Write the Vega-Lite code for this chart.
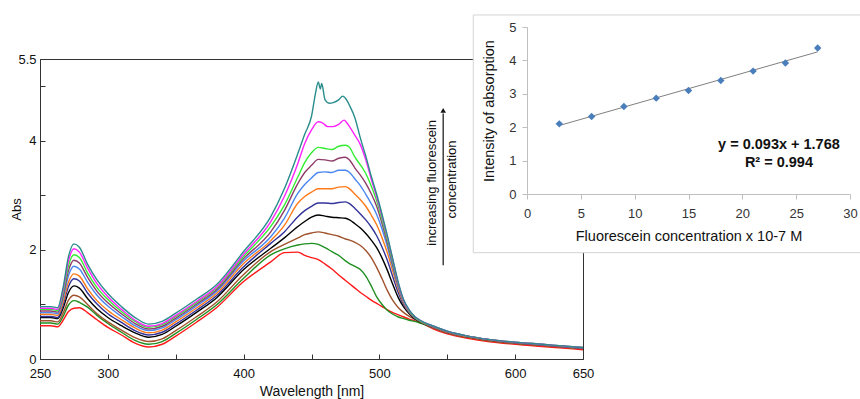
{
  "$schema": "https://vega.github.io/schema/vega-lite/v6.json",
  "width": 543,
  "height": 300,
  "autosize": {"type": "none"},
  "padding": {"left": 40, "top": 59, "right": 277, "bottom": 40},
  "background": "white",
  "config": {
    "view": {"stroke": "#333333", "strokeWidth": 1},
    "font": "Liberation Sans",
    "text": {"font": "Liberation Sans"},
    "axis": {"labelFont": "Liberation Sans", "titleFont": "Liberation Sans", "grid": false}
  },
  "datasets": {
    "spectra": [
{"s":"r","w":250,"a":0.61},{"s":"r","w":258,"a":0.61},{"s":"r","w":263,"a":0.59},{"s":"r","w":267,"a":0.71},{"s":"r","w":271,"a":0.87},{"s":"r","w":275,"a":0.93},{"s":"r","w":279,"a":0.94},{"s":"r","w":285,"a":0.85},{"s":"r","w":292,"a":0.72},{"s":"r","w":300,"a":0.58},{"s":"r","w":310,"a":0.44},{"s":"r","w":320,"a":0.29},{"s":"r","w":330,"a":0.22},{"s":"r","w":340,"a":0.27},{"s":"r","w":350,"a":0.42},{"s":"r","w":365,"a":0.67},{"s":"r","w":380,"a":0.94},{"s":"r","w":400,"a":1.42},{"s":"r","w":420,"a":1.78},{"s":"r","w":430,"a":1.95},{"s":"r","w":440,"a":1.96},{"s":"r","w":445,"a":1.90},{"s":"r","w":450,"a":1.86},{"s":"r","w":455,"a":1.82},{"s":"r","w":460,"a":1.74},{"s":"r","w":465,"a":1.65},{"s":"r","w":470,"a":1.54},{"s":"r","w":475,"a":1.44},{"s":"r","w":478,"a":1.38},{"s":"r","w":482,"a":1.30},{"s":"r","w":486,"a":1.22},{"s":"r","w":490,"a":1.15},{"s":"r","w":494,"a":1.08},{"s":"r","w":498,"a":1.02},{"s":"r","w":502,"a":0.96},{"s":"r","w":506,"a":0.90},{"s":"r","w":510,"a":0.85},{"s":"r","w":514,"a":0.81},{"s":"r","w":518,"a":0.77},{"s":"r","w":522,"a":0.73},{"s":"r","w":526,"a":0.70},{"s":"r","w":530,"a":0.67},{"s":"r","w":540,"a":0.55},{"s":"r","w":550,"a":0.46},{"s":"r","w":565,"a":0.38},{"s":"r","w":580,"a":0.32},{"s":"r","w":600,"a":0.27},{"s":"r","w":620,"a":0.23},{"s":"r","w":635,"a":0.20},{"s":"r","w":650,"a":0.17},
{"s":"g","w":250,"a":0.66},{"s":"g","w":258,"a":0.66},{"s":"g","w":263,"a":0.64},{"s":"g","w":267,"a":0.78},{"s":"g","w":271,"a":0.99},{"s":"g","w":275,"a":1.07},{"s":"g","w":279,"a":1.04},{"s":"g","w":285,"a":0.95},{"s":"g","w":292,"a":0.80},{"s":"g","w":300,"a":0.65},{"s":"g","w":310,"a":0.49},{"s":"g","w":320,"a":0.34},{"s":"g","w":330,"a":0.27},{"s":"g","w":340,"a":0.32},{"s":"g","w":350,"a":0.47},{"s":"g","w":365,"a":0.72},{"s":"g","w":380,"a":0.99},{"s":"g","w":400,"a":1.48},{"s":"g","w":420,"a":1.91},{"s":"g","w":430,"a":2.02},{"s":"g","w":440,"a":2.09},{"s":"g","w":445,"a":2.11},{"s":"g","w":450,"a":2.12},{"s":"g","w":455,"a":2.10},{"s":"g","w":460,"a":2.04},{"s":"g","w":465,"a":1.97},{"s":"g","w":470,"a":1.90},{"s":"g","w":475,"a":1.80},{"s":"g","w":478,"a":1.75},{"s":"g","w":482,"a":1.70},{"s":"g","w":486,"a":1.64},{"s":"g","w":490,"a":1.52},{"s":"g","w":494,"a":1.34},{"s":"g","w":498,"a":1.14},{"s":"g","w":502,"a":1.00},{"s":"g","w":506,"a":0.89},{"s":"g","w":510,"a":0.82},{"s":"g","w":514,"a":0.77},{"s":"g","w":518,"a":0.74},{"s":"g","w":522,"a":0.71},{"s":"g","w":526,"a":0.69},{"s":"g","w":530,"a":0.66},{"s":"g","w":540,"a":0.57},{"s":"g","w":550,"a":0.48},{"s":"g","w":565,"a":0.40},{"s":"g","w":580,"a":0.34},{"s":"g","w":600,"a":0.29},{"s":"g","w":620,"a":0.25},{"s":"g","w":635,"a":0.22},{"s":"g","w":650,"a":0.19},
{"s":"br","w":250,"a":0.70},{"s":"br","w":258,"a":0.70},{"s":"br","w":263,"a":0.68},{"s":"br","w":267,"a":0.84},{"s":"br","w":271,"a":1.08},{"s":"br","w":275,"a":1.17},{"s":"br","w":279,"a":1.14},{"s":"br","w":285,"a":1.00},{"s":"br","w":292,"a":0.83},{"s":"br","w":300,"a":0.68},{"s":"br","w":310,"a":0.53},{"s":"br","w":320,"a":0.39},{"s":"br","w":330,"a":0.32},{"s":"br","w":340,"a":0.37},{"s":"br","w":350,"a":0.52},{"s":"br","w":365,"a":0.77},{"s":"br","w":380,"a":1.04},{"s":"br","w":400,"a":1.55},{"s":"br","w":420,"a":1.97},{"s":"br","w":430,"a":2.10},{"s":"br","w":440,"a":2.22},{"s":"br","w":445,"a":2.28},{"s":"br","w":450,"a":2.31},{"s":"br","w":455,"a":2.33},{"s":"br","w":460,"a":2.31},{"s":"br","w":465,"a":2.28},{"s":"br","w":470,"a":2.25},{"s":"br","w":475,"a":2.20},{"s":"br","w":478,"a":2.18},{"s":"br","w":482,"a":2.14},{"s":"br","w":486,"a":2.08},{"s":"br","w":490,"a":1.99},{"s":"br","w":494,"a":1.86},{"s":"br","w":498,"a":1.68},{"s":"br","w":502,"a":1.47},{"s":"br","w":506,"a":1.25},{"s":"br","w":510,"a":1.07},{"s":"br","w":514,"a":0.94},{"s":"br","w":518,"a":0.85},{"s":"br","w":522,"a":0.78},{"s":"br","w":526,"a":0.73},{"s":"br","w":530,"a":0.68},{"s":"br","w":540,"a":0.57},{"s":"br","w":550,"a":0.48},{"s":"br","w":565,"a":0.40},{"s":"br","w":580,"a":0.34},{"s":"br","w":600,"a":0.29},{"s":"br","w":620,"a":0.25},{"s":"br","w":635,"a":0.22},{"s":"br","w":650,"a":0.19},
{"s":"bk","w":250,"a":0.76},{"s":"bk","w":258,"a":0.76},{"s":"bk","w":263,"a":0.74},{"s":"bk","w":267,"a":0.93},{"s":"bk","w":271,"a":1.22},{"s":"bk","w":275,"a":1.34},{"s":"bk","w":279,"a":1.30},{"s":"bk","w":285,"a":1.11},{"s":"bk","w":292,"a":0.92},{"s":"bk","w":300,"a":0.76},{"s":"bk","w":310,"a":0.61},{"s":"bk","w":320,"a":0.48},{"s":"bk","w":330,"a":0.40},{"s":"bk","w":340,"a":0.45},{"s":"bk","w":350,"a":0.60},{"s":"bk","w":365,"a":0.85},{"s":"bk","w":380,"a":1.12},{"s":"bk","w":400,"a":1.64},{"s":"bk","w":420,"a":2.03},{"s":"bk","w":430,"a":2.22},{"s":"bk","w":440,"a":2.43},{"s":"bk","w":445,"a":2.52},{"s":"bk","w":450,"a":2.60},{"s":"bk","w":455,"a":2.64},{"s":"bk","w":460,"a":2.62},{"s":"bk","w":465,"a":2.60},{"s":"bk","w":470,"a":2.59},{"s":"bk","w":475,"a":2.58},{"s":"bk","w":478,"a":2.55},{"s":"bk","w":482,"a":2.48},{"s":"bk","w":486,"a":2.40},{"s":"bk","w":490,"a":2.30},{"s":"bk","w":494,"a":2.18},{"s":"bk","w":498,"a":2.04},{"s":"bk","w":502,"a":1.85},{"s":"bk","w":506,"a":1.62},{"s":"bk","w":510,"a":1.36},{"s":"bk","w":514,"a":1.12},{"s":"bk","w":518,"a":0.95},{"s":"bk","w":522,"a":0.83},{"s":"bk","w":526,"a":0.74},{"s":"bk","w":530,"a":0.68},{"s":"bk","w":540,"a":0.58},{"s":"bk","w":550,"a":0.49},{"s":"bk","w":565,"a":0.41},{"s":"bk","w":580,"a":0.35},{"s":"bk","w":600,"a":0.30},{"s":"bk","w":620,"a":0.26},{"s":"bk","w":635,"a":0.23},{"s":"bk","w":650,"a":0.20},
{"s":"nv","w":250,"a":0.78},{"s":"nv","w":258,"a":0.78},{"s":"nv","w":263,"a":0.76},{"s":"nv","w":267,"a":0.99},{"s":"nv","w":271,"a":1.33},{"s":"nv","w":275,"a":1.47},{"s":"nv","w":279,"a":1.43},{"s":"nv","w":285,"a":1.21},{"s":"nv","w":292,"a":1.01},{"s":"nv","w":300,"a":0.83},{"s":"nv","w":310,"a":0.67},{"s":"nv","w":320,"a":0.52},{"s":"nv","w":330,"a":0.44},{"s":"nv","w":340,"a":0.49},{"s":"nv","w":350,"a":0.64},{"s":"nv","w":365,"a":0.89},{"s":"nv","w":380,"a":1.16},{"s":"nv","w":400,"a":1.69},{"s":"nv","w":420,"a":2.12},{"s":"nv","w":430,"a":2.33},{"s":"nv","w":440,"a":2.61},{"s":"nv","w":445,"a":2.72},{"s":"nv","w":450,"a":2.80},{"s":"nv","w":455,"a":2.86},{"s":"nv","w":460,"a":2.86},{"s":"nv","w":465,"a":2.85},{"s":"nv","w":470,"a":2.87},{"s":"nv","w":475,"a":2.88},{"s":"nv","w":478,"a":2.85},{"s":"nv","w":482,"a":2.76},{"s":"nv","w":486,"a":2.66},{"s":"nv","w":490,"a":2.55},{"s":"nv","w":494,"a":2.42},{"s":"nv","w":498,"a":2.26},{"s":"nv","w":502,"a":2.05},{"s":"nv","w":506,"a":1.80},{"s":"nv","w":510,"a":1.50},{"s":"nv","w":514,"a":1.21},{"s":"nv","w":518,"a":0.99},{"s":"nv","w":522,"a":0.85},{"s":"nv","w":526,"a":0.75},{"s":"nv","w":530,"a":0.69},{"s":"nv","w":540,"a":0.58},{"s":"nv","w":550,"a":0.49},{"s":"nv","w":565,"a":0.41},{"s":"nv","w":580,"a":0.35},{"s":"nv","w":600,"a":0.30},{"s":"nv","w":620,"a":0.26},{"s":"nv","w":635,"a":0.23},{"s":"nv","w":650,"a":0.20},
{"s":"or","w":250,"a":0.82},{"s":"or","w":258,"a":0.82},{"s":"or","w":263,"a":0.80},{"s":"or","w":267,"a":1.04},{"s":"or","w":271,"a":1.41},{"s":"or","w":275,"a":1.56},{"s":"or","w":279,"a":1.52},{"s":"or","w":285,"a":1.29},{"s":"or","w":292,"a":1.07},{"s":"or","w":300,"a":0.89},{"s":"or","w":310,"a":0.72},{"s":"or","w":320,"a":0.57},{"s":"or","w":330,"a":0.48},{"s":"or","w":340,"a":0.53},{"s":"or","w":350,"a":0.68},{"s":"or","w":365,"a":0.93},{"s":"or","w":380,"a":1.20},{"s":"or","w":400,"a":1.75},{"s":"or","w":420,"a":2.17},{"s":"or","w":430,"a":2.45},{"s":"or","w":440,"a":2.86},{"s":"or","w":445,"a":2.98},{"s":"or","w":450,"a":3.06},{"s":"or","w":455,"a":3.12},{"s":"or","w":460,"a":3.12},{"s":"or","w":465,"a":3.12},{"s":"or","w":470,"a":3.15},{"s":"or","w":475,"a":3.16},{"s":"or","w":478,"a":3.12},{"s":"or","w":482,"a":3.02},{"s":"or","w":486,"a":2.92},{"s":"or","w":490,"a":2.80},{"s":"or","w":494,"a":2.64},{"s":"or","w":498,"a":2.46},{"s":"or","w":502,"a":2.22},{"s":"or","w":506,"a":1.94},{"s":"or","w":510,"a":1.60},{"s":"or","w":514,"a":1.27},{"s":"or","w":518,"a":1.02},{"s":"or","w":522,"a":0.86},{"s":"or","w":526,"a":0.76},{"s":"or","w":530,"a":0.69},{"s":"or","w":540,"a":0.58},{"s":"or","w":550,"a":0.49},{"s":"or","w":565,"a":0.41},{"s":"or","w":580,"a":0.35},{"s":"or","w":600,"a":0.30},{"s":"or","w":620,"a":0.26},{"s":"or","w":635,"a":0.23},{"s":"or","w":650,"a":0.20},
{"s":"bl","w":250,"a":0.85},{"s":"bl","w":258,"a":0.85},{"s":"bl","w":263,"a":0.83},{"s":"bl","w":267,"a":1.11},{"s":"bl","w":271,"a":1.53},{"s":"bl","w":275,"a":1.70},{"s":"bl","w":279,"a":1.65},{"s":"bl","w":285,"a":1.41},{"s":"bl","w":292,"a":1.17},{"s":"bl","w":300,"a":0.97},{"s":"bl","w":310,"a":0.78},{"s":"bl","w":320,"a":0.61},{"s":"bl","w":330,"a":0.52},{"s":"bl","w":340,"a":0.57},{"s":"bl","w":350,"a":0.72},{"s":"bl","w":365,"a":0.97},{"s":"bl","w":380,"a":1.24},{"s":"bl","w":400,"a":1.80},{"s":"bl","w":420,"a":2.24},{"s":"bl","w":430,"a":2.58},{"s":"bl","w":440,"a":3.04},{"s":"bl","w":445,"a":3.20},{"s":"bl","w":450,"a":3.32},{"s":"bl","w":455,"a":3.42},{"s":"bl","w":460,"a":3.43},{"s":"bl","w":465,"a":3.42},{"s":"bl","w":470,"a":3.46},{"s":"bl","w":475,"a":3.46},{"s":"bl","w":478,"a":3.42},{"s":"bl","w":482,"a":3.30},{"s":"bl","w":486,"a":3.18},{"s":"bl","w":490,"a":3.02},{"s":"bl","w":494,"a":2.85},{"s":"bl","w":498,"a":2.65},{"s":"bl","w":502,"a":2.38},{"s":"bl","w":506,"a":2.05},{"s":"bl","w":510,"a":1.67},{"s":"bl","w":514,"a":1.31},{"s":"bl","w":518,"a":1.04},{"s":"bl","w":522,"a":0.87},{"s":"bl","w":526,"a":0.76},{"s":"bl","w":530,"a":0.70},{"s":"bl","w":540,"a":0.59},{"s":"bl","w":550,"a":0.50},{"s":"bl","w":565,"a":0.42},{"s":"bl","w":580,"a":0.36},{"s":"bl","w":600,"a":0.30},{"s":"bl","w":620,"a":0.26},{"s":"bl","w":635,"a":0.23},{"s":"bl","w":650,"a":0.20},
{"s":"pl","w":250,"a":0.88},{"s":"pl","w":258,"a":0.88},{"s":"pl","w":263,"a":0.86},{"s":"pl","w":267,"a":1.16},{"s":"pl","w":271,"a":1.62},{"s":"pl","w":275,"a":1.81},{"s":"pl","w":279,"a":1.76},{"s":"pl","w":285,"a":1.50},{"s":"pl","w":292,"a":1.24},{"s":"pl","w":300,"a":1.03},{"s":"pl","w":310,"a":0.83},{"s":"pl","w":320,"a":0.65},{"s":"pl","w":330,"a":0.55},{"s":"pl","w":340,"a":0.60},{"s":"pl","w":350,"a":0.75},{"s":"pl","w":365,"a":1.00},{"s":"pl","w":380,"a":1.27},{"s":"pl","w":400,"a":1.84},{"s":"pl","w":420,"a":2.33},{"s":"pl","w":430,"a":2.72},{"s":"pl","w":440,"a":3.22},{"s":"pl","w":445,"a":3.42},{"s":"pl","w":450,"a":3.55},{"s":"pl","w":455,"a":3.66},{"s":"pl","w":460,"a":3.65},{"s":"pl","w":465,"a":3.63},{"s":"pl","w":470,"a":3.68},{"s":"pl","w":475,"a":3.70},{"s":"pl","w":478,"a":3.65},{"s":"pl","w":482,"a":3.50},{"s":"pl","w":486,"a":3.37},{"s":"pl","w":490,"a":3.22},{"s":"pl","w":494,"a":3.03},{"s":"pl","w":498,"a":2.80},{"s":"pl","w":502,"a":2.48},{"s":"pl","w":506,"a":2.12},{"s":"pl","w":510,"a":1.72},{"s":"pl","w":514,"a":1.34},{"s":"pl","w":518,"a":1.05},{"s":"pl","w":522,"a":0.88},{"s":"pl","w":526,"a":0.77},{"s":"pl","w":530,"a":0.70},{"s":"pl","w":540,"a":0.59},{"s":"pl","w":550,"a":0.50},{"s":"pl","w":565,"a":0.42},{"s":"pl","w":580,"a":0.36},{"s":"pl","w":600,"a":0.30},{"s":"pl","w":620,"a":0.26},{"s":"pl","w":635,"a":0.23},{"s":"pl","w":650,"a":0.20},
{"s":"lm","w":250,"a":0.91},{"s":"lm","w":258,"a":0.91},{"s":"lm","w":263,"a":0.89},{"s":"lm","w":267,"a":1.21},{"s":"lm","w":271,"a":1.71},{"s":"lm","w":275,"a":1.91},{"s":"lm","w":279,"a":1.86},{"s":"lm","w":285,"a":1.58},{"s":"lm","w":292,"a":1.31},{"s":"lm","w":300,"a":1.09},{"s":"lm","w":310,"a":0.87},{"s":"lm","w":320,"a":0.69},{"s":"lm","w":330,"a":0.58},{"s":"lm","w":340,"a":0.63},{"s":"lm","w":350,"a":0.78},{"s":"lm","w":365,"a":1.03},{"s":"lm","w":380,"a":1.30},{"s":"lm","w":400,"a":1.88},{"s":"lm","w":420,"a":2.43},{"s":"lm","w":430,"a":2.82},{"s":"lm","w":440,"a":3.34},{"s":"lm","w":445,"a":3.60},{"s":"lm","w":450,"a":3.78},{"s":"lm","w":455,"a":3.88},{"s":"lm","w":460,"a":3.86},{"s":"lm","w":465,"a":3.84},{"s":"lm","w":470,"a":3.90},{"s":"lm","w":475,"a":3.92},{"s":"lm","w":478,"a":3.88},{"s":"lm","w":482,"a":3.70},{"s":"lm","w":486,"a":3.56},{"s":"lm","w":490,"a":3.40},{"s":"lm","w":494,"a":3.17},{"s":"lm","w":498,"a":2.90},{"s":"lm","w":502,"a":2.55},{"s":"lm","w":506,"a":2.17},{"s":"lm","w":510,"a":1.76},{"s":"lm","w":514,"a":1.36},{"s":"lm","w":518,"a":1.06},{"s":"lm","w":522,"a":0.88},{"s":"lm","w":526,"a":0.77},{"s":"lm","w":530,"a":0.70},{"s":"lm","w":540,"a":0.60},{"s":"lm","w":550,"a":0.51},{"s":"lm","w":565,"a":0.42},{"s":"lm","w":580,"a":0.36},{"s":"lm","w":600,"a":0.31},{"s":"lm","w":620,"a":0.27},{"s":"lm","w":635,"a":0.24},{"s":"lm","w":650,"a":0.21},
{"s":"mg","w":250,"a":0.93},{"s":"mg","w":258,"a":0.93},{"s":"mg","w":263,"a":0.91},{"s":"mg","w":267,"a":1.26},{"s":"mg","w":271,"a":1.80},{"s":"mg","w":275,"a":2.02},{"s":"mg","w":279,"a":1.96},{"s":"mg","w":285,"a":1.67},{"s":"mg","w":292,"a":1.38},{"s":"mg","w":300,"a":1.14},{"s":"mg","w":310,"a":0.91},{"s":"mg","w":320,"a":0.71},{"s":"mg","w":330,"a":0.60},{"s":"mg","w":340,"a":0.65},{"s":"mg","w":350,"a":0.80},{"s":"mg","w":365,"a":1.05},{"s":"mg","w":380,"a":1.32},{"s":"mg","w":400,"a":1.92},{"s":"mg","w":420,"a":2.52},{"s":"mg","w":430,"a":2.98},{"s":"mg","w":440,"a":3.59},{"s":"mg","w":445,"a":3.95},{"s":"mg","w":450,"a":4.20},{"s":"mg","w":455,"a":4.35},{"s":"mg","w":458,"a":4.33},{"s":"mg","w":462,"a":4.26},{"s":"mg","w":466,"a":4.26},{"s":"mg","w":470,"a":4.30},{"s":"mg","w":474,"a":4.38},{"s":"mg","w":476,"a":4.33},{"s":"mg","w":478,"a":4.26},{"s":"mg","w":482,"a":4.10},{"s":"mg","w":486,"a":3.93},{"s":"mg","w":490,"a":3.65},{"s":"mg","w":494,"a":3.30},{"s":"mg","w":498,"a":2.97},{"s":"mg","w":502,"a":2.61},{"s":"mg","w":506,"a":2.22},{"s":"mg","w":510,"a":1.80},{"s":"mg","w":514,"a":1.38},{"s":"mg","w":518,"a":1.07},{"s":"mg","w":522,"a":0.89},{"s":"mg","w":526,"a":0.78},{"s":"mg","w":530,"a":0.71},{"s":"mg","w":540,"a":0.60},{"s":"mg","w":550,"a":0.51},{"s":"mg","w":565,"a":0.42},{"s":"mg","w":580,"a":0.36},{"s":"mg","w":600,"a":0.31},{"s":"mg","w":620,"a":0.27},{"s":"mg","w":635,"a":0.24},{"s":"mg","w":650,"a":0.21},
{"s":"tl","w":250,"a":0.96},{"s":"tl","w":258,"a":0.96},{"s":"tl","w":263,"a":0.94},{"s":"tl","w":267,"a":1.31},{"s":"tl","w":271,"a":1.88},{"s":"tl","w":275,"a":2.11},{"s":"tl","w":279,"a":2.05},{"s":"tl","w":285,"a":1.74},{"s":"tl","w":292,"a":1.45},{"s":"tl","w":300,"a":1.20},{"s":"tl","w":310,"a":0.96},{"s":"tl","w":320,"a":0.76},{"s":"tl","w":330,"a":0.64},{"s":"tl","w":340,"a":0.69},{"s":"tl","w":350,"a":0.84},{"s":"tl","w":365,"a":1.09},{"s":"tl","w":380,"a":1.36},{"s":"tl","w":400,"a":1.97},{"s":"tl","w":420,"a":2.61},{"s":"tl","w":430,"a":3.12},{"s":"tl","w":440,"a":3.77},{"s":"tl","w":445,"a":4.12},{"s":"tl","w":450,"a":4.45},{"s":"tl","w":453,"a":4.88},{"s":"tl","w":455,"a":5.08},{"s":"tl","w":456.5,"a":4.95},{"s":"tl","w":457.5,"a":5.05},{"s":"tl","w":460,"a":4.75},{"s":"tl","w":463,"a":4.69},{"s":"tl","w":466,"a":4.70},{"s":"tl","w":470,"a":4.75},{"s":"tl","w":473,"a":4.82},{"s":"tl","w":475,"a":4.78},{"s":"tl","w":478,"a":4.65},{"s":"tl","w":482,"a":4.42},{"s":"tl","w":486,"a":4.05},{"s":"tl","w":490,"a":3.72},{"s":"tl","w":494,"a":3.35},{"s":"tl","w":498,"a":3.02},{"s":"tl","w":502,"a":2.65},{"s":"tl","w":506,"a":2.25},{"s":"tl","w":510,"a":1.82},{"s":"tl","w":514,"a":1.40},{"s":"tl","w":518,"a":1.08},{"s":"tl","w":522,"a":0.90},{"s":"tl","w":526,"a":0.78},{"s":"tl","w":530,"a":0.71},{"s":"tl","w":540,"a":0.60},{"s":"tl","w":550,"a":0.51},{"s":"tl","w":565,"a":0.42},{"s":"tl","w":580,"a":0.36},{"s":"tl","w":600,"a":0.31},{"s":"tl","w":620,"a":0.27},{"s":"tl","w":635,"a":0.24},{"s":"tl","w":650,"a":0.21}
    ],
    "cal": [
      {"c": 3, "v": 2.10}, {"c": 6, "v": 2.32}, {"c": 9, "v": 2.62},
      {"c": 12, "v": 2.87}, {"c": 15, "v": 3.10}, {"c": 18, "v": 3.40},
      {"c": 21, "v": 3.68}, {"c": 24, "v": 3.92}, {"c": 27, "v": 4.37}
    ]
  },
  "layer": [
    {
      "layer": [
        {
          "data": {"name": "spectra"},
          "mark": {"type": "line", "strokeWidth": 1.4, "interpolate": "monotone"},
          "encoding": {
            "x": {
              "field": "w", "type": "quantitative",
              "scale": {"domain": [250, 650], "nice": false, "zero": false},
              "axis": {
                "title": "Wavelength [nm]", "values": [250, 300, 350, 400, 450, 500, 550, 600, 650],
                "labelExpr": "datum.value == 350 || datum.value == 450 || datum.value == 550 ? '' : datum.label",
                "format": "d", "labelFlush": false, "labelOverlap": false,
                "domainColor": "#333333", "tickColor": "#333333", "tickSize": -5,
                "labelPadding": 13, "labelFontSize": 13, "labelColor": "#111111",
                "titleFontSize": 14, "titleFontWeight": "normal", "titleColor": "#111111", "titlePadding": 4
              }
            },
            "y": {
              "field": "a", "type": "quantitative",
              "scale": {"domain": [0, 5.5], "nice": false},
              "axis": {
                "title": "Abs", "values": [0, 1, 2, 3, 4, 5, 5.5], "format": "~g",
                "labelExpr": "datum.value == 1 || datum.value == 3 || datum.value == 5 ? '' : datum.label",
                "labelFlush": false, "labelOverlap": false,
                "domainColor": "#333333", "tickColor": "#333333", "tickSize": -5,
                "labelPadding": 9, "labelFontSize": 13, "labelColor": "#111111",
                "titleFontSize": 13, "titleFontWeight": "normal", "titleColor": "#111111", "titlePadding": -6
              }
            },
            "color": {
              "field": "s", "type": "nominal",
              "scale": {
                "domain": ["r", "g", "br", "bk", "nv", "or", "bl", "pl", "lm", "mg", "tl"],
                "range": ["#ff1a1a", "#1f8f1f", "#a0522d", "#000000", "#33339a", "#ff7a1a", "#4a86f0", "#8e3d6a", "#33ee33", "#ff22ff", "#2a8c8c"]
              },
              "legend": null
            }
          }
        },
        {
          "data": {"values": [{}]},
          "mark": {"type": "rule", "color": "#111111", "strokeWidth": 1.2},
          "encoding": {"x": {"datum": 547}, "y": {"datum": 1.72}, "y2": {"datum": 4.5}}
        },
        {
          "data": {"values": [{}]},
          "mark": {"type": "point", "shape": "triangle-up", "filled": true, "color": "#111111", "size": 30, "opacity": 1},
          "encoding": {"x": {"datum": 547}, "y": {"datum": 4.56}}
        },
        {
          "data": {"values": [{}]},
          "mark": {"type": "text", "text": "increasing fluorescein", "angle": 270, "align": "center", "baseline": "middle", "fontSize": 13, "color": "#111111"},
          "encoding": {"x": {"datum": 539}, "y": {"datum": 3.23}}
        },
        {
          "data": {"values": [{}]},
          "mark": {"type": "text", "text": "concentration", "angle": 270, "align": "center", "baseline": "middle", "fontSize": 13, "color": "#111111"},
          "encoding": {"x": {"datum": 553.5}, "y": {"datum": 3.29}}
        }
      ]
    },
    {
      "layer": [
        {
          "data": {"values": [{}]},
          "mark": {"type": "rect", "fill": "white", "stroke": "#d4d4d4", "strokeWidth": 1},
          "encoding": {
            "x": {"datum": -4.99, "scale": {"domain": [0, 30], "nice": false, "range": [487, 810]}},
            "x2": {"datum": 31.5},
            "y": {"datum": 5.36, "scale": {"domain": [0, 5], "nice": false, "range": [135, -32]}},
            "y2": {"datum": -1.757}
          }
        },
        {
          "data": {"name": "cal"},
          "transform": [{"regression": "v", "on": "c"}],
          "mark": {"type": "line", "color": "#808080", "strokeWidth": 1},
          "encoding": {
            "x": {"field": "c", "type": "quantitative", "scale": {"domain": [0, 30], "nice": false, "range": [487, 810]}},
            "y": {"field": "v", "type": "quantitative", "scale": {"domain": [0, 5], "nice": false, "range": [135, -32]}}
          }
        },
        {
          "data": {"name": "cal"},
          "mark": {"type": "point", "shape": "diamond", "filled": true, "color": "#4a7ebb", "size": 55, "opacity": 1},
          "encoding": {
            "x": {
              "field": "c", "type": "quantitative",
              "scale": {"domain": [0, 30], "nice": false, "range": [487, 810]},
              "axis": {
                "orient": "bottom", "offset": -165, "zindex": 1,
                "title": "Fluorescein concentration x 10-7 M", "values": [0, 5, 10, 15, 20, 25, 30], "format": "d",
                "labelFlush": false, "labelOverlap": false,
                "domainColor": "#bfbfbf", "tickColor": "#bfbfbf", "tickSize": 5,
                "labelPadding": 8, "labelFontSize": 13, "labelColor": "#333333",
                "titleFontSize": 14.5, "titleFontWeight": "normal", "titleColor": "#111111", "titlePadding": 9
              }
            },
            "y": {
              "field": "v", "type": "quantitative",
              "scale": {"domain": [0, 5], "nice": false, "range": [135, -32]},
              "axis": {
                "orient": "left", "offset": -487, "zindex": 1,
                "title": "Intensity of absorption", "values": [0, 1, 2, 3, 4, 5], "format": "d",
                "labelFlush": false, "labelOverlap": false,
                "domainColor": "#bfbfbf", "tickColor": "#bfbfbf", "tickSize": 5,
                "labelPadding": 6, "labelFontSize": 13, "labelColor": "#333333",
                "titleFontSize": 14.5, "titleFontWeight": "normal", "titleColor": "#111111", "titlePadding": 12
              }
            }
          }
        },
        {
          "data": {"values": [{}]},
          "mark": {"type": "text", "text": "y = 0.093x + 1.768", "align": "center", "baseline": "middle", "fontSize": 14.5, "fontWeight": "bold", "color": "#111111"},
          "encoding": {
            "x": {"datum": 23.4, "scale": {"domain": [0, 30], "nice": false, "range": [487, 810]}},
            "y": {"datum": 1.47, "scale": {"domain": [0, 5], "nice": false, "range": [135, -32]}}
          }
        },
        {
          "data": {"values": [{}]},
          "mark": {"type": "text", "text": "R² = 0.994", "align": "center", "baseline": "middle", "fontSize": 14.5, "fontWeight": "bold", "color": "#111111"},
          "encoding": {
            "x": {"datum": 23.4, "scale": {"domain": [0, 30], "nice": false, "range": [487, 810]}},
            "y": {"datum": 0.93, "scale": {"domain": [0, 5], "nice": false, "range": [135, -32]}}
          }
        }
      ]
    }
  ],
  "resolve": {"scale": {"x": "independent", "y": "independent"}}
}
